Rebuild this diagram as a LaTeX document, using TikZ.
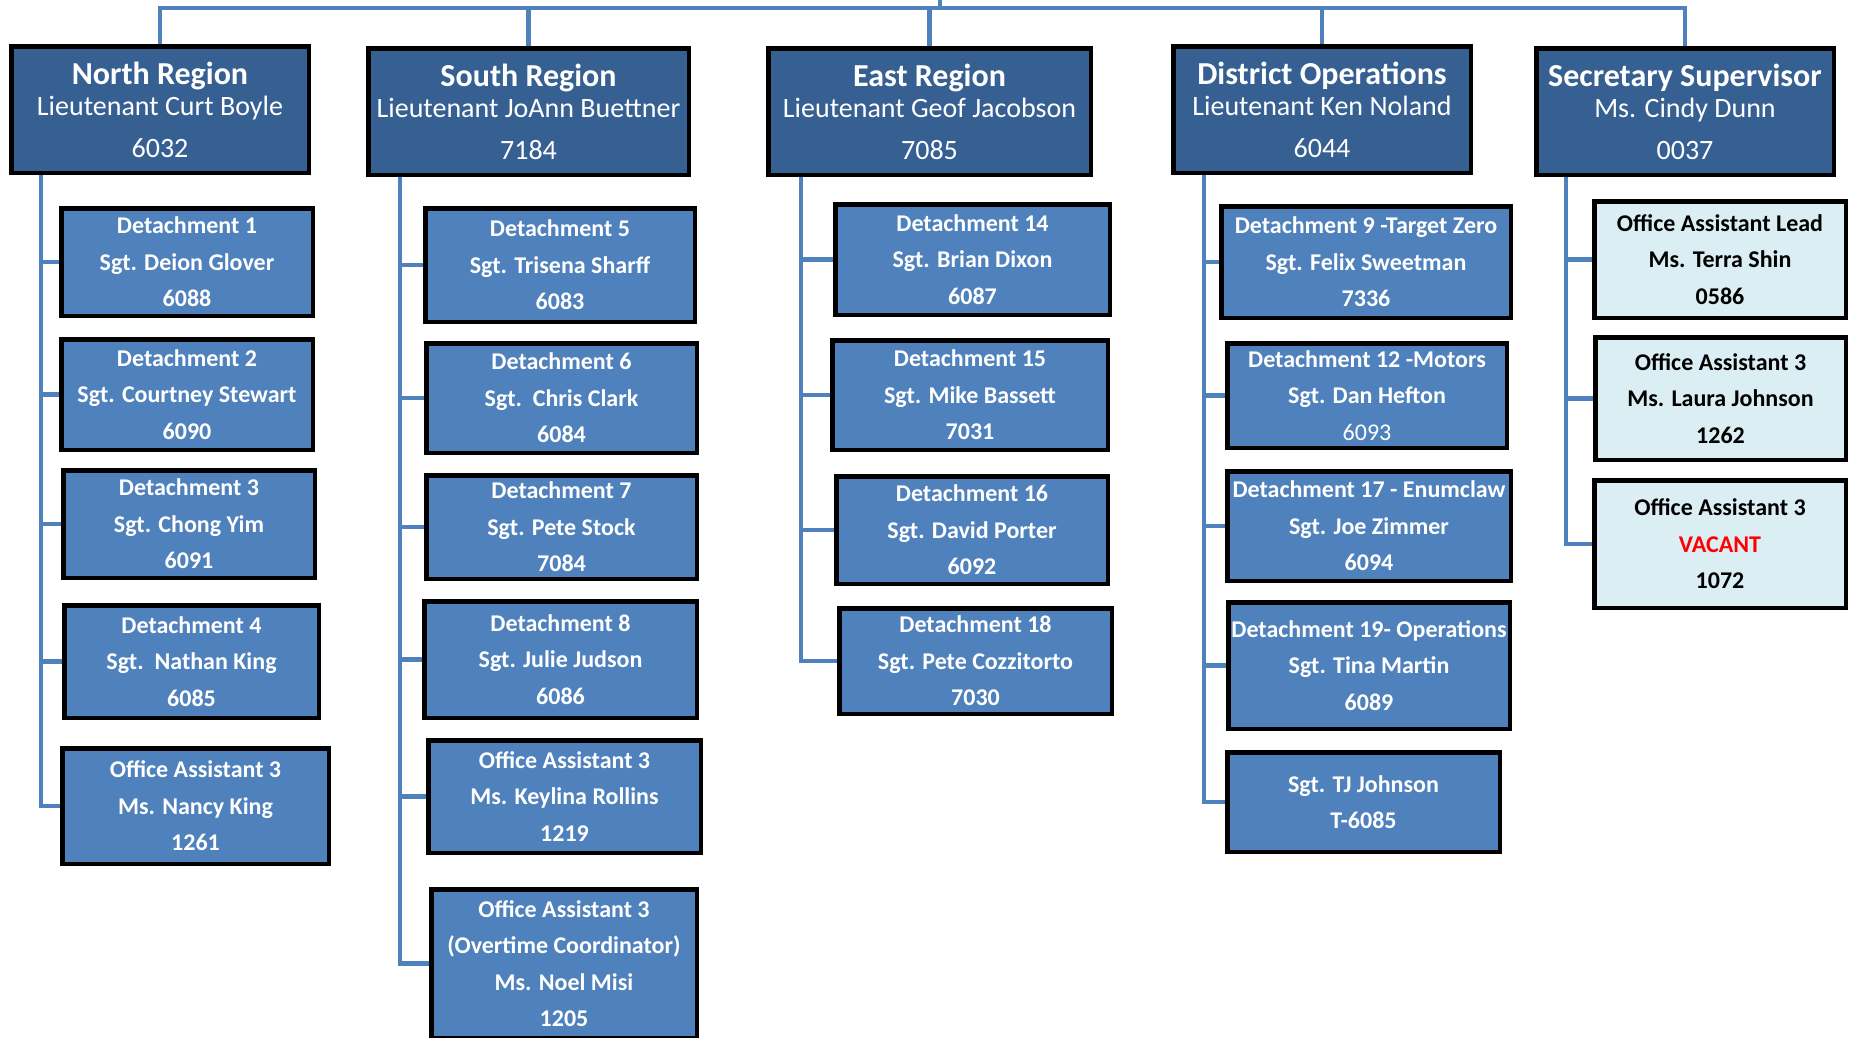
\documentclass[tikz,border=0pt]{standalone}
\usepackage{fontspec}
\setmainfont{Carlito}
\usetikzlibrary{backgrounds}
\definecolor{hdrblue}{HTML}{366092}
\definecolor{detblue}{HTML}{4F81BD}
\definecolor{lightblue}{HTML}{DBEEF4}
\definecolor{linecol}{HTML}{4F81BD}
\definecolor{vacred}{HTML}{FF0000}
\tikzset{
  sz/.style n args={2}{minimum width=#1pt, minimum height=#2pt},
  hdr/.style={draw=black, line width=4.5pt, fill=hdrblue, text=white, align=center, inner sep=0pt, font=\fontsize{28}{31}\selectfont},
  det/.style={draw=black, line width=4.5pt, fill=detblue, text=white, align=center, inner sep=0pt, font=\fontsize{24}{36.5}\selectfont\bfseries},
  oa/.style={det, fill=lightblue, text=black},
  conn/.style={draw=linecol, line width=4.5pt},
}
\newcommand{\ttl}[1]{{\fontsize{32}{31}\selectfont\bfseries #1}}
\begin{document}
\begin{tikzpicture}[x=1pt,y=-1pt]
\useasboundingbox (0,0) rectangle (1849,1037);
% headers
\node[hdr, sz={297.5}{126.5}] (N) at (160,109.5) {\ttl{North Region}\\ Lieutenant Curt Boyle\\[11pt] 6032};
\node[hdr, sz={320.5}{126.5}] (S) at (528.5,111.5) {\ttl{South Region}\\ Lieutenant JoAnn Buettner\\[11pt] 7184};
\node[hdr, sz={322.5}{126.5}] (E) at (929.5,111.5) {\ttl{East Region}\\ Lieutenant Geof Jacobson\\[11pt] 7085};
\node[hdr, sz={297.5}{126.5}] (D) at (1322,109.5) {\ttl{District Operations}\\ Lieutenant Ken Noland\\[11pt] 6044};
\node[hdr, sz={297.5}{126.5}] (Sec) at (1685,111.5) {\ttl{Secretary Supervisor}\\ Ms. Cindy Dunn\\[11pt] 0037};
% north
\node[det, sz={251.5}{107.5}] (n1) at (187,262) {Detachment 1\\ Sgt. Deion Glover\\ 6088};
\node[det, sz={251.5}{110.5}] (n2) at (187,394.5) {Detachment 2\\ Sgt. Courtney Stewart\\ 6090};
\node[det, sz={251.5}{107.5}] (n3) at (189,524) {Detachment 3\\ Sgt. Chong Yim\\ 6091};
\node[det, sz={254.5}{112.5}] (n4) at (191.5,661.5) {Detachment 4\\ Sgt.\ \ Nathan King\\ 6085};
\node[det, sz={266.5}{115.5}] (n5) at (195.5,806) {Office Assistant 3\\ Ms. Nancy King\\ 1261};
% south
\node[det, sz={269.5}{113.5}] (s1) at (560,265) {Detachment 5\\ Sgt. Trisena Sharff\\ 6083};
\node[det, sz={270.5}{109.5}] (s2) at (561.5,398) {Detachment 6\\ Sgt.\ \ Chris Clark\\ 6084};
\node[det, sz={270.5}{103.5}] (s3) at (561.5,527) {Detachment 7\\ Sgt. Pete Stock\\ 7084};
\node[det, sz={272.5}{116.5}] (s4) at (560.5,659.5) {Detachment 8\\ Sgt. Julie Judson\\ 6086};
\node[det, sz={272.5}{112.5}] (s5) at (564.5,796.5) {Office Assistant 3\\ Ms. Keylina Rollins\\ 1219};
\node[det, sz={265.5}{148.5}] (s6) at (564,963.5) {Office Assistant 3\\ (Overtime Coordinator)\\ Ms. Noel Misi\\ 1205};
% east
\node[det, sz={274.5}{110.5}] (e1) at (972.5,259.5) {Detachment 14\\ Sgt. Brian Dixon\\ 6087};
\node[det, sz={275.5}{109.5}] (e2) at (970,395) {Detachment 15\\ Sgt. Mike Bassett\\ 7031};
\node[det, sz={271.5}{107.5}] (e3) at (972,530) {Detachment 16\\ Sgt. David Porter\\ 6092};
\node[det, sz={272.5}{105.5}] (e4) at (975.5,661) {Detachment 18\\ Sgt. Pete Cozzitorto\\ 7030};
% district
\node[det, sz={289.5}{111.5}] (d1) at (1366,262) {Detachment 9 -Target Zero\\ Sgt. Felix Sweetman\\ 7336};
\node[det, sz={279.5}{104.5}] (d2) at (1367,395.5) {Detachment 12 -Motors\\ Sgt. Dan Hefton\\ {\mdseries 6093}};
\node[det, sz={283.5}{109.5}] (d3) at (1369,526) {Detachment 17 - Enumclaw\\ Sgt. Joe Zimmer\\ 6094};
\node[det, sz={281.5}{126.5}] (d4) at (1369,665.5) {Detachment 19- Operations\\ Sgt. Tina Martin\\ 6089};
\node[det, sz={272.5}{99.5}] (d5) at (1363.5,802) {Sgt. TJ Johnson\\ T-6085};
% secretary
\node[oa, sz={251.5}{116.5}] (o1) at (1720,259.5) {Office Assistant Lead\\ Ms. Terra Shin\\ 0586};
\node[oa, sz={250.5}{122.5}] (o2) at (1720.5,398.5) {Office Assistant 3\\ Ms. Laura Johnson\\ 1262};
\node[oa, sz={251.5}{127.5}] (o3) at (1720,544) {Office Assistant 3\\ \textcolor{vacred}{VACANT}\\ 1072};
% connectors
\coordinate (top) at (940,0);
\coordinate (bus) at (940,8);
\coordinate (nt) at (41,0);
\coordinate (st) at (400,0);
\coordinate (et) at (801,0);
\coordinate (dt) at (1204,0);
\coordinate (ot) at (1566,0);
\begin{pgfonlayer}{background}
\draw[conn] (top) -- (bus);
\draw[conn] (N.north) |- (Sec.north |- bus) -- (Sec.north);
\draw[conn] (S.north) -- (S.north |- bus);
\draw[conn] (E.north) -- (E.north |- bus);
\draw[conn] (D.north) -- (D.north |- bus);
\foreach \c in {n1,n2,n3,n4,n5} \draw[conn] (N.south -| nt) |- (\c.west);
\foreach \c in {s1,s2,s3,s4,s5,s6} \draw[conn] (S.south -| st) |- (\c.west);
\foreach \c in {e1,e2,e3,e4} \draw[conn] (E.south -| et) |- (\c.west);
\foreach \c in {d1,d2,d3,d4,d5} \draw[conn] (D.south -| dt) |- (\c.west);
\foreach \c in {o1,o2,o3} \draw[conn] (Sec.south -| ot) |- (\c.west);
\end{pgfonlayer}
\end{tikzpicture}
\end{document}
